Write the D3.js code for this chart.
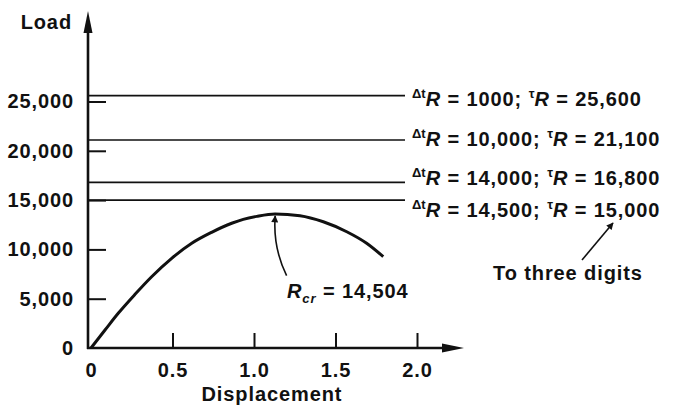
<!DOCTYPE html>
<html>
<head>
<meta charset="UTF-8"/>
<title>Load vs displacement</title>
<script src="https://cdn.jsdelivr.net/npm/d3@7"></script>
<style>
body { margin: 0; background: #fff; }
svg { display: block; }
text {
  font-family: 'Liberation Sans', Arial, sans-serif;
  font-weight: bold;
  font-size: 20px;
  letter-spacing: 0.9px;
  fill: #111;
}
.axis path.domain { display: none; }
.axis line { stroke: #111; stroke-width: 2; }
.level { stroke: #111; stroke-width: 1.6; }
.curve { fill: none; stroke: #111; stroke-width: 3; }
.note { fill: none; stroke: #111; stroke-width: 1.6; }
</style>
</head>
<body>
<svg width="673" height="410"></svg>
<script>
// displacement / load
const displacement = [0, 0.086, 0.167, 0.27, 0.372, 0.495, 0.618, 0.74, 0.863, 0.934, 1.017, 1.129, 1.282, 1.425, 1.569, 1.691, 1.793];
const load = [0, 1825, 3520, 5445, 7230, 9095, 10620, 11730, 12650, 13050, 13350, 13590, 13415, 12800, 11790, 10620, 9260];

const xTicks = [0, 0.5, 1.0, 1.5, 2.0];
const yTicks = [0, 5000, 10000, 15000, 20000, 25000];

// iteration levels: load level tR and increment ΔtR
const levelLoads = [25600, 21100, 16800, 15000];
const levelDelta = ['1000', '10,000', '14,000', '14,500'];
const levelTotal = ['25,600', '21,100', '16,800', '15,000'];

const svg = d3.select('svg');

const x = d3.scaleLinear().domain([0, 2]).range([91, 417]);
const y = d3.scaleLinear().domain([0, 25000]).range([348, 101.5]);

const x0 = 88, y0 = 348;

// axis lines with arrows
svg.append('line')
  .attr('x1', x0).attr('y1', y0 + 1).attr('x2', x0).attr('y2', 28)
  .attr('stroke', '#111').attr('stroke-width', 2.6);
svg.append('path')
  .attr('d', `M${x0},11 L${x0 + 4.5},33 L${x0 - 4.5},33 Z`)
  .attr('fill', '#111');

svg.append('line')
  .attr('x1', x0 - 1).attr('y1', y0).attr('x2', 448).attr('y2', y0)
  .attr('stroke', '#111').attr('stroke-width', 2.6);
svg.append('path')
  .attr('d', `M464,${y0} L442,${y0 - 4.5} L442,${y0 + 4.5} Z`)
  .attr('fill', '#111');

// ticks
const xAxis = svg.append('g')
  .attr('class', 'axis')
  .attr('transform', `translate(0, ${y0})`)
  .call(d3.axisBottom(x)
    .tickValues(xTicks)
    .tickSize(-15)
    .tickPadding(15)
    .tickFormat(d => d === 0 ? '0' : d3.format('.1f')(d)));
xAxis.selectAll('.tick').filter(d => d === 0).select('line').remove();

const yAxis = svg.append('g')
  .attr('class', 'axis')
  .attr('transform', `translate(${x0}, 0)`)
  .call(d3.axisLeft(y)
    .tickValues(yTicks)
    .tickSize(-18)
    .tickPadding(14)
    .tickFormat(d3.format(',')));
yAxis.selectAll('.tick').filter(d => d === 0).select('line').remove();
svg.selectAll('.axis text').attr('fill', '#111').style('font-size', '20px');

// axis titles
svg.append('text')
  .attr('x', 72).attr('y', 29)
  .attr('text-anchor', 'end')
  .text('Load');

svg.append('text')
  .attr('x', x(1.11)).attr('y', 401)
  .attr('text-anchor', 'middle')
  .text('Displacement');

// load levels
svg.selectAll('.level')
  .data(levelLoads)
  .enter()
  .append('line')
  .attr('class', 'level')
  .attr('x1', x0)
  .attr('x2', 405)
  .attr('y1', d => y(d))
  .attr('y2', d => y(d));

const labelOffset = [10, 6, 2.5, 17];
levelLoads.forEach((v, i) => {
  const t = svg.append('text')
    .attr('x', 412)
    .attr('y', y(v) + labelOffset[i]);
  t.append('tspan').attr('dy', -8).style('font-size', '13px').style('letter-spacing', '0px').text('Δt');
  t.append('tspan').attr('dy', 8).style('font-style', 'italic').text('R');
  t.append('tspan').text(` = ${levelDelta[i]}; `);
  t.append('tspan').attr('dy', -8).style('font-size', '13px').style('letter-spacing', '0px').text('τ');
  t.append('tspan').attr('dy', 8).style('font-style', 'italic').text('R');
  t.append('tspan').text(` = ${levelTotal[i]}`);
});

// response curve
const pts = displacement.map((d, i) => [d, load[i]]);
svg.append('path')
  .datum(pts)
  .attr('class', 'curve')
  .attr('d', d3.line()
    .x(d => x(d[0]))
    .y(d => y(d[1]))
    .curve(d3.curveMonotoneX));

// annotations
svg.append('defs').append('marker')
  .attr('id', 'head')
  .attr('viewBox', '0 0 10 10')
  .attr('refX', 9).attr('refY', 5)
  .attr('markerWidth', 9).attr('markerHeight', 7)
  .attr('markerUnits', 'userSpaceOnUse')
  .attr('orient', 'auto')
  .append('path')
  .attr('d', 'M0,0 L10,5 L0,10 Z')
  .attr('fill', '#111');

svg.append('path')
  .attr('class', 'note')
  .attr('marker-end', 'url(#head)')
  .attr('d', `M${x(1.2)},${y(7350)} Q${x(1.115)},${y(10200)} ${x(1.13)},${y(13400)}`)
  .attr('stroke-width', 1.8);

const rcr = svg.append('text').attr('x', 287).attr('y', 298);
rcr.append('tspan').style('font-style', 'italic').text('R');
rcr.append('tspan').attr('dy', 5).style('font-size', '13px').style('font-style', 'italic').text('cr');
rcr.append('tspan').attr('dy', -5).text(' = 14,504');

svg.append('line')
  .attr('class', 'note')
  .attr('x1', 582).attr('y1', 260)
  .attr('x2', 613).attr('y2', 223)
  .attr('marker-end', 'url(#head)');

svg.append('text')
  .attr('x', 493).attr('y', 280)
  .text('To three digits');
</script>
</body>
</html>
